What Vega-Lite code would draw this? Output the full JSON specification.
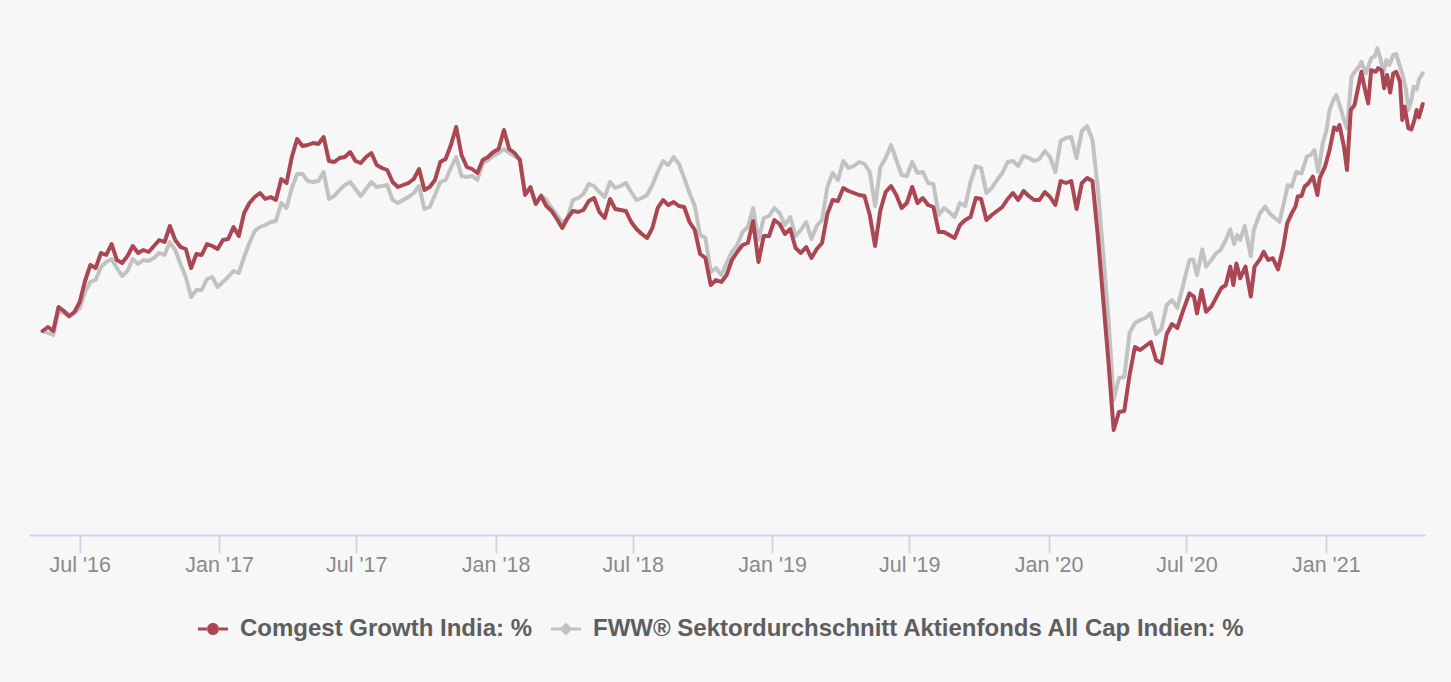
{
"$schema": "https://vega.github.io/schema/vega-lite/v6.json",
"width": 1396,
"height": 520,
"autosize": {"type": "none"},
"padding": {"left": 29, "top": 15, "right": 26, "bottom": 147},
"background": "#f7f7f7",
"config": {"view": {"stroke": null}, "font": "Liberation Sans"},
"data": {"values": [
{"d":"2016-05-13","a":0,"b":0},{"d":"2016-05-20","a":1,"b":-0.5},{"d":"2016-05-27","a":0,"b":-1},{"d":"2016-06-03","a":6,"b":5.25},{"d":"2016-06-10","a":5,"b":4.5},{"d":"2016-06-17","a":3.75,"b":3.5},{"d":"2016-06-24","a":4.75,"b":4.5},{"d":"2016-07-01","a":7.25,"b":5.75},{"d":"2016-07-08","a":12.5,"b":9.75},{"d":"2016-07-15","a":16.5,"b":12.25},{"d":"2016-07-22","a":15.75,"b":12.75},{"d":"2016-07-29","a":19.5,"b":16},{"d":"2016-08-05","a":19,"b":17.25},{"d":"2016-08-12","a":21.75,"b":18},{"d":"2016-08-19","a":17.75,"b":15.75},{"d":"2016-08-26","a":17,"b":13.75},{"d":"2016-09-02","a":18.75,"b":15},{"d":"2016-09-09","a":21.25,"b":18},{"d":"2016-09-16","a":19.5,"b":16.75},{"d":"2016-09-23","a":20.25,"b":17.75},{"d":"2016-09-30","a":19.75,"b":17.5},{"d":"2016-10-07","a":21.25,"b":18.25},{"d":"2016-10-14","a":22.75,"b":19.5},{"d":"2016-10-21","a":22.25,"b":19},{"d":"2016-10-28","a":26.25,"b":22.25},{"d":"2016-11-04","a":22.75,"b":20.25},{"d":"2016-11-11","a":21,"b":16.75},{"d":"2016-11-18","a":20.5,"b":13.5},{"d":"2016-11-25","a":15.75,"b":8.5},{"d":"2016-12-02","a":19.25,"b":10.25},{"d":"2016-12-09","a":19,"b":10.25},{"d":"2016-12-16","a":21.75,"b":13},{"d":"2016-12-23","a":21.25,"b":13.5},{"d":"2016-12-30","a":20.5,"b":11},
{"d":"2017-01-06","a":22.75,"b":12.25},{"d":"2017-01-13","a":23,"b":13.5},{"d":"2017-01-20","a":26,"b":15},{"d":"2017-01-27","a":23.75,"b":14.5},{"d":"2017-02-03","a":29.5,"b":18.5},{"d":"2017-02-10","a":32,"b":22},{"d":"2017-02-17","a":33.5,"b":25},{"d":"2017-02-24","a":34.5,"b":26},{"d":"2017-03-03","a":33,"b":26.5},{"d":"2017-03-10","a":33.5,"b":27.25},{"d":"2017-03-17","a":32.75,"b":27.5},{"d":"2017-03-24","a":38,"b":32},{"d":"2017-03-31","a":37,"b":30.75},{"d":"2017-04-07","a":43.5,"b":35.75},{"d":"2017-04-14","a":48,"b":39.25},{"d":"2017-04-21","a":46.25,"b":39.25},{"d":"2017-04-28","a":46.5,"b":37.5},{"d":"2017-05-05","a":47,"b":37.25},{"d":"2017-05-12","a":46.75,"b":37.5},{"d":"2017-05-19","a":48.5,"b":39.75},{"d":"2017-05-26","a":42.5,"b":33},{"d":"2017-06-02","a":42.25,"b":33.75},{"d":"2017-06-09","a":43.25,"b":35.25},{"d":"2017-06-16","a":43.5,"b":36.5},{"d":"2017-06-23","a":44.75,"b":37.25},{"d":"2017-06-30","a":42.5,"b":35.5},{"d":"2017-07-07","a":42,"b":33.75},{"d":"2017-07-14","a":43.5,"b":35.5},{"d":"2017-07-21","a":44.5,"b":37.25},{"d":"2017-07-28","a":41.5,"b":36},{"d":"2017-08-04","a":40.75,"b":36.25},{"d":"2017-08-11","a":40.25,"b":36.5},{"d":"2017-08-18","a":37.25,"b":32.75},{"d":"2017-08-25","a":36,"b":32},{"d":"2017-09-01","a":36.5,"b":32.75},{"d":"2017-09-08","a":37,"b":33.5},{"d":"2017-09-15","a":38,"b":34.5},{"d":"2017-09-22","a":40.5,"b":36.25},{"d":"2017-09-29","a":35.25,"b":30.5},{"d":"2017-10-06","a":36,"b":31},{"d":"2017-10-13","a":37.75,"b":34},{"d":"2017-10-20","a":42.25,"b":37.25},{"d":"2017-10-27","a":43,"b":37.75},{"d":"2017-11-03","a":46.5,"b":40.75},{"d":"2017-11-10","a":51,"b":43.5},{"d":"2017-11-17","a":44,"b":38.75},{"d":"2017-11-24","a":41,"b":38.5},{"d":"2017-12-01","a":40.5,"b":38.75},{"d":"2017-12-08","a":39.5,"b":37.75},{"d":"2017-12-15","a":42.75,"b":42},{"d":"2017-12-22","a":43.5,"b":42.75},{"d":"2017-12-29","a":44.75,"b":43.75},
{"d":"2018-01-05","a":45.5,"b":44.5},{"d":"2018-01-12","a":50.25,"b":45.5},{"d":"2018-01-19","a":45.5,"b":44.5},{"d":"2018-01-26","a":44.5,"b":43.75},{"d":"2018-02-02","a":42.75,"b":43},{"d":"2018-02-09","a":34,"b":34.25},{"d":"2018-02-16","a":36,"b":35.75},{"d":"2018-02-23","a":31.75,"b":31.75},{"d":"2018-03-02","a":33.75,"b":34},{"d":"2018-03-09","a":31.25,"b":32.75},{"d":"2018-03-16","a":30,"b":30.75},{"d":"2018-03-23","a":28,"b":29},{"d":"2018-03-30","a":25.75,"b":27},{"d":"2018-04-06","a":28.25,"b":28.25},{"d":"2018-04-13","a":30,"b":32.75},{"d":"2018-04-20","a":29.75,"b":33.25},{"d":"2018-04-27","a":30.25,"b":34.25},{"d":"2018-05-04","a":32.5,"b":36.75},{"d":"2018-05-11","a":33.25,"b":36.25},{"d":"2018-05-18","a":29.75,"b":34.75},{"d":"2018-05-25","a":28.25,"b":33.5},{"d":"2018-06-01","a":33,"b":37.25},{"d":"2018-06-08","a":30.5,"b":35.75},{"d":"2018-06-15","a":30.25,"b":36.25},{"d":"2018-06-22","a":30,"b":37},{"d":"2018-06-29","a":27.25,"b":34.75},{"d":"2018-07-06","a":25.5,"b":32.75},{"d":"2018-07-13","a":24.25,"b":33.25},{"d":"2018-07-20","a":23.25,"b":34},{"d":"2018-07-27","a":25.75,"b":36.5},{"d":"2018-08-03","a":30.75,"b":39.75},{"d":"2018-08-10","a":32.75,"b":42.5},{"d":"2018-08-17","a":31.5,"b":41.5},{"d":"2018-08-24","a":32.25,"b":43.5},{"d":"2018-08-31","a":31.25,"b":41.75},{"d":"2018-09-07","a":31,"b":38.25},{"d":"2018-09-14","a":27.25,"b":34.5},{"d":"2018-09-21","a":25.25,"b":31.25},{"d":"2018-09-28","a":19.25,"b":24},{"d":"2018-10-05","a":18.25,"b":23.25},{"d":"2018-10-12","a":11.5,"b":14.75},{"d":"2018-10-19","a":12.75,"b":15.75},{"d":"2018-10-26","a":12.25,"b":14},{"d":"2018-11-02","a":14,"b":17},{"d":"2018-11-09","a":17.75,"b":19.75},{"d":"2018-11-16","a":19.75,"b":21.5},{"d":"2018-11-23","a":21.5,"b":24.75},{"d":"2018-11-30","a":22,"b":26},{"d":"2018-12-07","a":27.5,"b":30.75},{"d":"2018-12-14","a":17.25,"b":22.75},{"d":"2018-12-21","a":23.75,"b":28.25},{"d":"2018-12-28","a":23.75,"b":28.75},
{"d":"2019-01-04","a":27.75,"b":30.75},{"d":"2019-01-11","a":26.75,"b":29.5},{"d":"2019-01-18","a":24.25,"b":26.5},{"d":"2019-01-25","a":25.5,"b":28.5},{"d":"2019-02-01","a":20.75,"b":23.75},{"d":"2019-02-08","a":19.5,"b":25.25},{"d":"2019-02-15","a":21,"b":27.25},{"d":"2019-02-22","a":18.25,"b":23},{"d":"2019-03-01","a":20.5,"b":26.25},{"d":"2019-03-08","a":22,"b":27.75},{"d":"2019-03-15","a":29.25,"b":36},{"d":"2019-03-22","a":32.75,"b":39.5},{"d":"2019-03-29","a":32.5,"b":37.75},{"d":"2019-04-05","a":35.75,"b":42.5},{"d":"2019-04-12","a":35,"b":40.75},{"d":"2019-04-19","a":34.5,"b":41.25},{"d":"2019-04-26","a":34,"b":42.25},{"d":"2019-05-03","a":33.75,"b":41.75},{"d":"2019-05-10","a":29,"b":39.75},{"d":"2019-05-17","a":21.25,"b":31.25},{"d":"2019-05-24","a":30.25,"b":41},{"d":"2019-05-31","a":34.75,"b":43.25},{"d":"2019-06-07","a":36.25,"b":46.5},{"d":"2019-06-14","a":34,"b":42.75},{"d":"2019-06-21","a":30.75,"b":39},{"d":"2019-06-28","a":32,"b":38.75},{"d":"2019-07-05","a":36,"b":42.25},{"d":"2019-07-12","a":32,"b":39.5},{"d":"2019-07-19","a":33.25,"b":39.75},{"d":"2019-07-26","a":31.5,"b":37},{"d":"2019-08-02","a":31,"b":36.75},{"d":"2019-08-09","a":24.75,"b":29},{"d":"2019-08-16","a":24.75,"b":30.75},{"d":"2019-08-23","a":24,"b":29.75},{"d":"2019-08-30","a":23.25,"b":28.5},{"d":"2019-09-06","a":26.5,"b":32},{"d":"2019-09-13","a":27.75,"b":31.25},{"d":"2019-09-20","a":28.5,"b":37.25},{"d":"2019-09-27","a":33.25,"b":41.25},{"d":"2019-10-04","a":33,"b":40.75},{"d":"2019-10-11","a":27.75,"b":34.5},{"d":"2019-10-18","a":29,"b":35.75},{"d":"2019-10-25","a":30,"b":37.75},{"d":"2019-11-01","a":31,"b":39.5},{"d":"2019-11-08","a":33,"b":42.25},{"d":"2019-11-15","a":34.5,"b":42.5},{"d":"2019-11-22","a":32.75,"b":41.25},{"d":"2019-11-29","a":35,"b":43.75},{"d":"2019-12-06","a":33.75,"b":43.25},{"d":"2019-12-13","a":32.75,"b":42.5},{"d":"2019-12-20","a":32.75,"b":43},{"d":"2019-12-27","a":34.75,"b":45},
{"d":"2020-01-03","a":33.5,"b":43.5},{"d":"2020-01-10","a":31.5,"b":39.75},{"d":"2020-01-17","a":37.5,"b":47.5},{"d":"2020-01-24","a":37,"b":48.25},{"d":"2020-01-31","a":37.5,"b":48.5},{"d":"2020-02-07","a":30.5,"b":43.25},{"d":"2020-02-14","a":37,"b":50},{"d":"2020-02-21","a":38.25,"b":51.25},{"d":"2020-02-28","a":37.5,"b":47.75},{"d":"2020-03-06","a":24,"b":35.75},{"d":"2020-03-13","a":8.25,"b":19.75},{"d":"2020-03-20","a":-7.5,"b":3.25},{"d":"2020-03-27","a":-24.75,"b":-17.25},{"d":"2020-04-03","a":-20.25,"b":-11.75},{"d":"2020-04-10","a":-20,"b":-11.5},{"d":"2020-04-17","a":-11,"b":-0.5},{"d":"2020-04-24","a":-4,"b":2},{"d":"2020-05-01","a":-4.75,"b":2.75},{"d":"2020-05-08","a":-3.75,"b":3.25},{"d":"2020-05-15","a":-2.75,"b":4.5},{"d":"2020-05-22","a":-7.25,"b":-0.75},{"d":"2020-05-29","a":-8,"b":0.5},{"d":"2020-06-05","a":-0.75,"b":6.5},{"d":"2020-06-12","a":1.75,"b":7.75},{"d":"2020-06-19","a":0.75,"b":5.75},{"d":"2020-06-26","a":4.75,"b":11},
{"d":"2020-07-05","a":9.4,"b":17.75},{"d":"2020-07-10","b":17.9},{"d":"2020-07-11","a":8.6},{"d":"2020-07-15","a":4.4,"b":14},{"d":"2020-07-21","a":10.25},{"d":"2020-07-22","b":20.4},{"d":"2020-07-27","a":4.8,"b":16.1},{"d":"2020-08-03","a":6.1,"b":17.75},{"d":"2020-08-09","b":19.4},{"d":"2020-08-10","a":8.6},{"d":"2020-08-15","b":20.25},{"d":"2020-08-16","a":10.7},{"d":"2020-08-21","b":22.3},{"d":"2020-08-22","a":11.5},{"d":"2020-08-28","a":16.1,"b":25.4},{"d":"2020-09-01","a":11.5},{"d":"2020-09-02","b":21.75},{"d":"2020-09-05","a":16.9},{"d":"2020-09-06","b":24},{"d":"2020-09-10","a":13.2,"b":22.75},{"d":"2020-09-16","b":26.25},{"d":"2020-09-17","a":16.1},{"d":"2020-09-24","a":8.6,"b":18.75},{"d":"2020-09-28","b":25.25},{"d":"2020-09-29","a":16.1},{"d":"2020-10-06","a":17.9,"b":29.4},{"d":"2020-10-11","a":19.8},{"d":"2020-10-13","b":31.1},{"d":"2020-10-17","a":17.75},{"d":"2020-10-19","b":29.4},{"d":"2020-10-23","a":18.2},{"d":"2020-10-26","b":28.2},{"d":"2020-10-30","a":15.4},{"d":"2020-11-01","b":27.3},{"d":"2020-11-06","a":21.1},{"d":"2020-11-08","b":33.2},{"d":"2020-11-11","a":26.9},{"d":"2020-11-12","b":36.5},{"d":"2020-11-17","a":29.4,"b":36.1},{"d":"2020-11-22","a":31.1},{"d":"2020-11-23","b":39.8},{"d":"2020-11-25","a":33.6},{"d":"2020-11-30","a":33.75,"b":39.4},{"d":"2020-12-04","a":36.1},{"d":"2020-12-07","b":43.6},{"d":"2020-12-09","a":36.9},{"d":"2020-12-12","b":44},{"d":"2020-12-15","a":38.6},{"d":"2020-12-17","b":45.25},{"d":"2020-12-21","a":34},{"d":"2020-12-22","b":39.8},{"d":"2020-12-24","a":38.2},{"d":"2020-12-28","b":46.9},{"d":"2020-12-31","a":41.1},
{"d":"2021-01-02","b":50.25},{"d":"2021-01-06","a":45.25,"b":55.25},{"d":"2021-01-12","a":50.9,"b":58.2},{"d":"2021-01-15","b":59},{"d":"2021-01-16","a":50.25},{"d":"2021-01-19","a":51.5},{"d":"2021-01-20","b":56.1},{"d":"2021-01-25","a":46.1,"b":52.75},{"d":"2021-01-29","a":40.25,"b":50.7},{"d":"2021-02-03","a":55.25},{"d":"2021-02-04","b":63.6},{"d":"2021-02-08","a":56.5},{"d":"2021-02-10","b":65.25},{"d":"2021-02-13","a":61.1},{"d":"2021-02-14","b":66.1},{"d":"2021-02-17","a":64.8,"b":67.3},{"d":"2021-02-20","a":61.9},{"d":"2021-02-23","b":64.4},{"d":"2021-02-26","a":56.9},{"d":"2021-03-02","a":65.25,"b":68.2},{"d":"2021-03-07","b":68.75},{"d":"2021-03-08","a":64.8},{"d":"2021-03-10","b":70.7},{"d":"2021-03-11","a":65.7},{"d":"2021-03-14","b":68.2},{"d":"2021-03-16","a":65.1},{"d":"2021-03-18","b":64.4},{"d":"2021-03-19","a":60.7},{"d":"2021-03-22","b":67.75},{"d":"2021-03-23","a":64},{"d":"2021-03-26","b":66.5},{"d":"2021-03-27","a":59.6},{"d":"2021-03-31","a":64.4,"b":69},{"d":"2021-04-04","a":64.8,"b":69.25},{"d":"2021-04-09","a":62.3,"b":66.1},{"d":"2021-04-12","a":52.75},{"d":"2021-04-13","b":63.6},{"d":"2021-04-15","a":56.1},{"d":"2021-04-17","b":60.25},{"d":"2021-04-20","a":50.7,"b":55.25},{"d":"2021-04-24","a":50.4,"b":57.75},{"d":"2021-04-27","b":61.1},{"d":"2021-04-28","a":52.75},{"d":"2021-05-01","a":55.25,"b":60.4},{"d":"2021-05-04","a":53.4,"b":62.9},{"d":"2021-05-09","a":56.75,"b":64.4}
]},
"transform": [
  {"fold": ["b", "a"], "as": ["s", "v"]},
  {"filter": "isValid(datum.v)"}
],
"encoding": {
  "x": {"field": "d", "type": "temporal",
    "scale": {"type": "utc", "domain": [{"year": 2016, "month": 4, "date": 25, "utc": true}, {"year": 2021, "month": 5, "date": 12, "utc": true}]},
    "axis": {"title": null, "grid": false,
      "values": [{"year":2016,"month":7,"date":1,"utc":true},{"year":2017,"month":1,"date":1,"utc":true},{"year":2017,"month":7,"date":1,"utc":true},{"year":2018,"month":1,"date":1,"utc":true},{"year":2018,"month":7,"date":1,"utc":true},{"year":2019,"month":1,"date":1,"utc":true},{"year":2019,"month":7,"date":1,"utc":true},{"year":2020,"month":1,"date":1,"utc":true},{"year":2020,"month":7,"date":1,"utc":true},{"year":2021,"month":1,"date":1,"utc":true}],
      "format": "%b '%y", "labelFont": "Liberation Sans", "labelFontSize": 21.5, "labelColor": "#8a8a8a",
      "labelPadding": 1, "labelFlush": false, "labelOverlap": false,
      "domainColor": "#ccd6eb", "domainWidth": 2, "tickColor": "#ccd6eb", "tickWidth": 2, "tickSize": 18}},
  "y": {"field": "v", "type": "quantitative", "scale": {"domain": [-51, 79], "nice": false, "zero": false}, "axis": null}
},
"layer": [
  {"mark": {"type": "line", "strokeWidth": 4, "strokeJoin": "round", "strokeCap": "round"},
   "encoding": {
     "color": {"field": "s", "type": "nominal", "scale": {"domain": ["a", "b"], "range": ["#ab4753", "#c2c2c2"]}, "legend": null}
   }},
  {"transform": [{"filter": "datum.v > 1000"}],
   "mark": {"type": "point", "filled": true, "opacity": 1},
   "encoding": {
     "color": {"field": "s", "type": "nominal", "scale": {"domain": ["a", "b"], "range": ["#ab4753", "#c2c2c2"]},
       "legend": {"orient": "none", "legendX": 169, "legendY": 599, "direction": "horizontal", "title": null,
         "labelFont": "Liberation Sans", "labelFontSize": 24, "labelFontWeight": "bold", "labelColor": "#5e5e5e", "labelLimit": 1000,
         "symbolSize": 900, "symbolStrokeWidth": 0, "symbolOpacity": 1, "labelOffset": 12, "columnPadding": 18, "padding": 0,
         "labelExpr": "datum.value == 'a' ? 'Comgest Growth India: %' : 'FWW® Sektordurchschnitt Aktienfonds All Cap Indien: %'"}},
     "shape": {"field": "s", "type": "nominal",
       "scale": {"domain": ["a", "b"], "range": ["M-1,-0.1H-0.38V0.1H-1Z M0.38,-0.1H1V0.1H0.38Z M-0.4,0A0.4,0.4,0,1,0,0.4,0A0.4,0.4,0,1,0,-0.4,0Z", "M-1,-0.1H-0.3V0.1H-1Z M0.3,-0.1H1V0.1H0.3Z M0,-0.43L0.43,0L0,0.43L-0.43,0Z"]},
       "legend": {"orient": "none", "legendX": 169, "legendY": 599, "direction": "horizontal", "title": null,
         "labelFont": "Liberation Sans", "labelFontSize": 24, "labelFontWeight": "bold", "labelColor": "#5e5e5e", "labelLimit": 1000,
         "symbolSize": 900, "symbolStrokeWidth": 0, "symbolOpacity": 1, "labelOffset": 12, "columnPadding": 18, "padding": 0,
         "labelExpr": "datum.value == 'a' ? 'Comgest Growth India: %' : 'FWW® Sektordurchschnitt Aktienfonds All Cap Indien: %'"}}
   }}
],
"resolve": {"legend": {"color": "independent", "shape": "independent"}}
}
